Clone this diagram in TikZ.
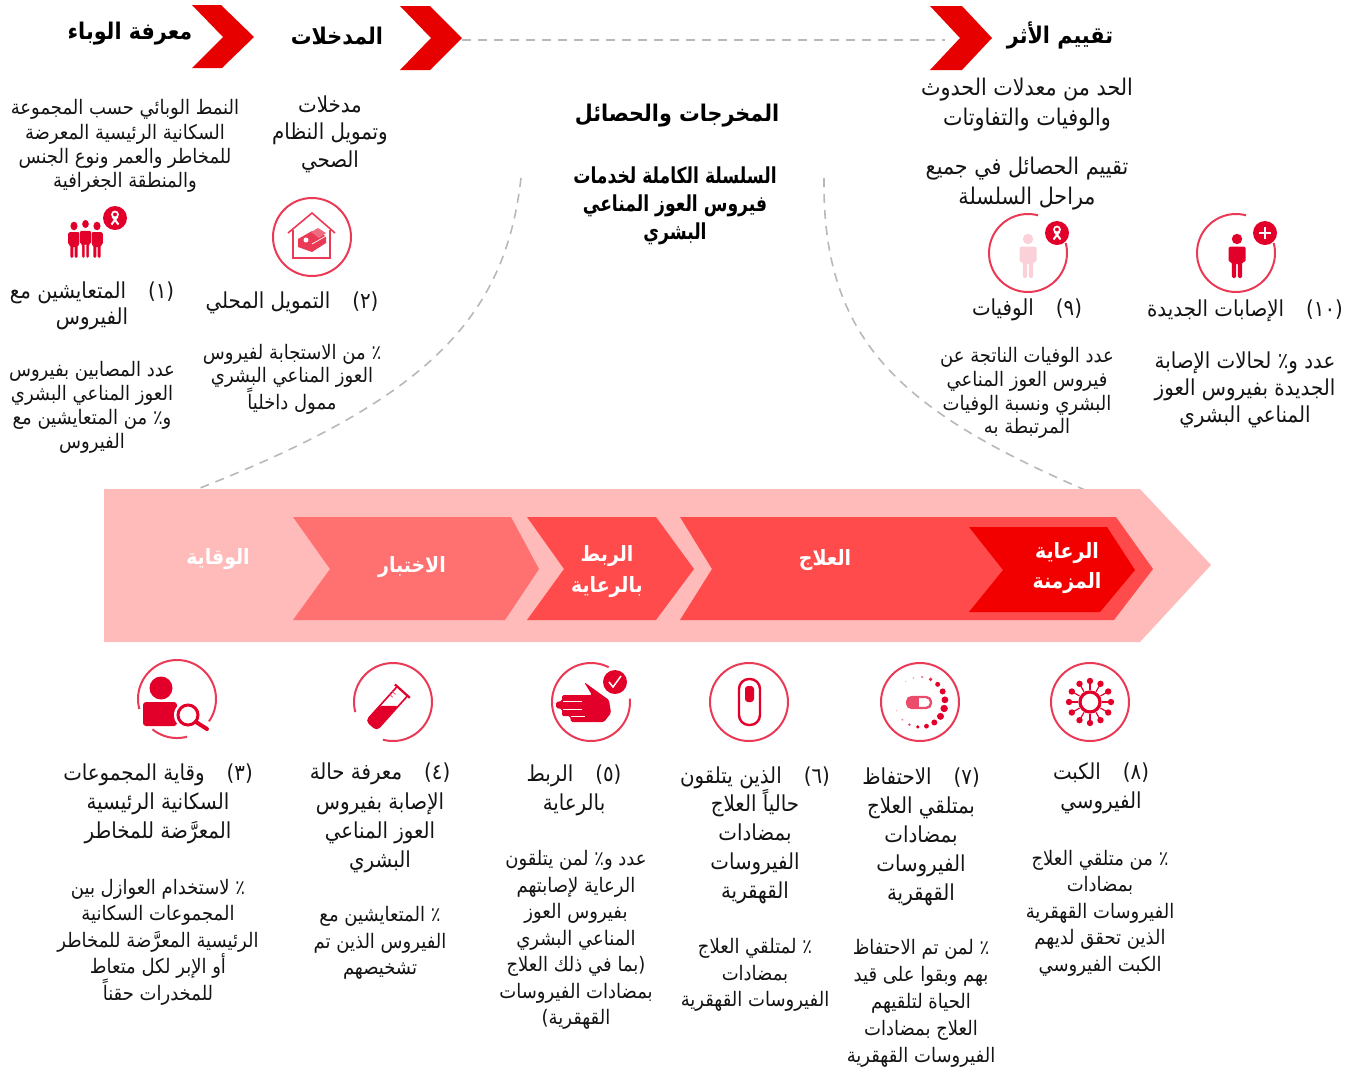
\documentclass[tikz,border=0pt]{standalone}
\usepackage{fontspec}
\TeXXeTstate=1
\newfontfamily\arfont[Script=Arabic,FakeStretch=0.9]{DejaVu Sans}
\newfontfamily\chainfont[Script=Arabic,FakeStretch=0.78]{DejaVu Sans}
\newcommand{\ar}[1]{\beginR #1\endR}
\definecolor{headred}{HTML}{E60000}
\definecolor{iconred}{HTML}{E2002B}
\definecolor{ringred}{HTML}{EA3A55}
\definecolor{bandpink}{HTML}{FFBABA}
\definecolor{testred}{HTML}{FF7070}
\definecolor{treatred}{HTML}{FF4B4B}
\definecolor{chronred}{HTML}{F20000}
\definecolor{dashgray}{HTML}{B8B8B8}
\tikzset{
  bodyt/.style={inner sep=0pt,align=center,text=black!92,yshift=-2pt,font=\arfont\fontsize{20}{#1}\selectfont},
  labelt/.style={inner sep=0pt,align=center,text=black!92,yshift=-2pt,font=\arfont\fontsize{22}{#1}\selectfont},
  leadt/.style={inner sep=0pt,align=center,text=black!92,yshift=-2pt,font=\arfont\fontsize{23}{#1}\selectfont},
  headt/.style={inner sep=0pt,align=center,text=black,yshift=-3pt,font=\arfont\bfseries\fontsize{23}{#1}\selectfont},
  chaint/.style={inner sep=0pt,align=center,text=black,yshift=-2pt,font=\chainfont\bfseries\fontsize{22}{#1}\selectfont},
  bandt/.style={inner sep=0pt,align=center,text=white,yshift=-2pt,font=\arfont\bfseries\fontsize{21}{#1}\selectfont},
  dashline/.style={draw=dashgray,line width=1.6pt,dash pattern=on 9pt off 7pt},
  ring/.style={draw=ringred,line width=2pt}
}
\newcommand{\ringarc}[4]{\draw[ring] plot[domain=#3:#4,samples=70] ({#1+39*cos(\x)},{#2-39*sin(\x)});}
\newcommand{\personfig}[4]{%
  \begin{scope}[shift={(#1,#2)},#3]
  \fill[#4] (0,0) circle[radius=5.2pt];
  \fill[#4,rounded corners=1.5pt] (-8.5,7.5) -- (8.5,7.5) -- (8.5,23) -- (5.2,23) -- (5.2,39) -- (0.9,39) -- (0.9,24) -- (-0.9,24) -- (-0.9,39) -- (-5.2,39) -- (-5.2,23) -- (-8.5,23) -- cycle;
  \end{scope}}
\newcommand{\ribbonbadge}[2]{%
  \fill[iconred] (#1,#2) circle[radius=12pt];
  \begin{scope}[shift={(#1,#2)}]
  \draw[white,line width=1.7pt] (0,-3.5) circle[radius=3pt];
  \draw[white,line width=2pt] (-2.5,-1.5) -- (3.5,6.5) (2.5,-1.5) -- (-3.5,6.5);
  \end{scope}}
\begin{document}
\begin{tikzpicture}[x=1pt,y=-1pt]
\useasboundingbox (0,0) rectangle (1361,1072);

% header chevrons
\fill[headred] (192,5) -- (221,5) -- (254,37) -- (222,68) -- (192,68) -- (223,37) -- cycle;
\fill[headred] (400,6) -- (430,6) -- (462,38) -- (430,70) -- (400,70) -- (431,38) -- cycle;
\fill[headred] (930,6) -- (962,6) -- (992,38) -- (962,70) -- (930,70) -- (960,38) -- cycle;

% dashed connectors
\coordinate (dashA) at (462,40);
\coordinate (dashB) at (945,40);
\coordinate (curveLtop) at (521,178);
\coordinate (curveLbot) at (195,490);
\coordinate (curveRtop) at (824,178);
\coordinate (curveRbot) at (1085,490);
\draw[dashline] (dashA) -- (dashB);
\draw[dashline] (curveLtop) .. controls (505,320) and (425,400) .. (curveLbot);
\draw[dashline] (curveRtop) .. controls (822,340) and (900,410) .. (curveRbot);

% band
\fill[bandpink] (104,489) -- (1140,489) -- (1211,565) -- (1140,642) -- (104,642) -- cycle;
\fill[testred] (293,517) -- (511,517) -- (539,569) -- (505,620) -- (293,620) -- (330,569) -- cycle;
\fill[treatred] (527,517) -- (656,517) -- (694,569) -- (656,620) -- (527,620) -- (564,569) -- cycle;
\fill[treatred] (680,517) -- (1116,517) -- (1153,569) -- (1114,620) -- (680,620) -- (712,569) -- cycle;
\fill[chronred] (969,527) -- (1107,527) -- (1135,570) -- (1100,612) -- (969,612) -- (1003,570) -- cycle;

\node[bandt=24] (bPrev) at (218,557) {\ar{الوقاية}};
\node[bandt=24] (bTest) at (412,565) {\ar{الاختبار}};
\node[bandt=31] (bLink) at (607,570) {\ar{الربط}\\\ar{بالرعاية}};
\node[bandt=24] (bTreat) at (825,558) {\ar{العلاج}};
\node[bandt=30] (bChron) at (1067,566) {\ar{الرعاية}\\\ar{المزمنة}};

% headings
\node[headt=28] (hEpi) at (130,31) {\ar{معرفة الوباء}};
\node[headt=28] (hInp) at (337,33) {\ar{المدخلات}};
\node[headt=28] (hImp) at (1060,32) {\ar{تقييم الأثر}};
\node[headt=28] (hOut) at (677,113) {\ar{المخرجات والحصائل}};
\node[chaint=28] (hChain) at (675,204) {\ar{السلسلة الكاملة لخدمات}\\\ar{فيروس العوز المناعي}\\\ar{البشري}};

% top texts
\node[bodyt=24.3] (tEpi) at (125,144) {\ar{النمط الوبائي حسب المجموعة}\\\ar{السكانية الرئيسية المعرضة}\\\ar{للمخاطر والعمر ونوع الجنس}\\\ar{والمنطقة الجغرافية}};
\node[labelt=27.5] (tInp) at (330,132) {\ar{مدخلات}\\\ar{وتمويل النظام}\\\ar{الصحي}};
\node[leadt=30] (tImpA) at (1027,103) {\ar{الحد من معدلات الحدوث}\\\ar{والوفيات والتفاوتات}};
\node[leadt=30] (tImpB) at (1027,182) {\ar{تقييم الحصائل في جميع}\\\ar{مراحل السلسلة}};

% labels 1,2,9,10
\node[labelt=26] (l1) at (92,304) {\ar{(١)\quad المتعايشين مع}\\\ar{الفيروس}};
\node[labelt=26] (l2) at (292,301) {\ar{(٢)\quad التمويل المحلي}};
\node[labelt=26] (l9) at (1027,308) {\ar{(٩)\quad الوفيات}};
\node[labelt=26] (l10) at (1245,309) {\ar{(\beginL ١٠\endL)\quad الإصابات الجديدة}};

% descriptions 1,2,9,10
\node[bodyt=24] (d1) at (92,405) {\ar{عدد المصابين بفيروس}\\\ar{العوز المناعي البشري}\\\ar{و٪ من المتعايشين مع}\\\ar{الفيروس}};
\node[bodyt=23.5] (d2) at (292,377) {\ar{٪ من الاستجابة لفيروس}\\\ar{العوز المناعي البشري}\\\ar{ممول داخلياً}};
\node[bodyt=23.7] (d9) at (1027,391) {\ar{عدد الوفيات الناتجة عن}\\\ar{فيروس العوز المناعي}\\\ar{البشري ونسبة الوفيات}\\\ar{المرتبطة به}};
\node[labelt=27] (d10) at (1245,388) {\ar{عدد و٪ لحالات الإصابة}\\\ar{الجديدة بفيروس العوز}\\\ar{المناعي البشري}};

% bottom labels
\node[labelt=28.7] (l3) at (158,802) {\ar{(٣)\quad وقاية المجموعات}\\\ar{السكانية الرئيسية}\\\ar{المعرَّضة للمخاطر}};
\node[labelt=29.2] (l4) at (380,816) {\ar{(٤)\quad معرفة حالة}\\\ar{الإصابة بفيروس}\\\ar{العوز المناعي}\\\ar{البشري}};
\node[labelt=29] (l5) at (574,788) {\ar{(٥)\quad الربط}\\\ar{بالرعاية}};
\node[labelt=28.8] (l6) at (755,833) {\ar{(٦)\quad الذين يتلقون}\\\ar{حالياً العلاج}\\\ar{بمضادات}\\\ar{الفيروسات}\\\ar{القهقرية}};
\node[labelt=29] (l7) at (921,835) {\ar{(٧)\quad الاحتفاظ}\\\ar{بمتلقي العلاج}\\\ar{بمضادات}\\\ar{الفيروسات}\\\ar{القهقرية}};
\node[labelt=29] (l8) at (1101,786) {\ar{(٨)\quad الكبت}\\\ar{الفيروسي}};

% bottom descriptions
\node[bodyt=26.5] (d3) at (158,940) {\ar{٪ لاستخدام العوازل بين}\\\ar{المجموعات السكانية}\\\ar{الرئيسية المعرَّضة للمخاطر}\\\ar{أو الإبر لكل متعاط}\\\ar{للمخدرات حقناً}};
\node[bodyt=26.5] (d4) at (380,941) {\ar{٪ المتعايشين مع}\\\ar{الفيروس الذين تم}\\\ar{تشخيصهم}};
\node[bodyt=26.5] (d5) at (576,938) {\ar{عدد و٪ لمن يتلقون}\\\ar{الرعاية لإصابتهم}\\\ar{بفيروس العوز}\\\ar{المناعي البشري}\\\ar{(بما في ذلك العلاج}\\\ar{بمضادات الفيروسات}\\\ar{القهقرية)}};
\node[bodyt=26.5] (d6) at (755,973) {\ar{٪ لمتلقي العلاج}\\\ar{بمضادات}\\\ar{الفيروسات القهقرية}};
\node[bodyt=27] (d7) at (921,1001) {\ar{٪ لمن تم الاحتفاظ}\\\ar{بهم وبقوا على قيد}\\\ar{الحياة لتلقيهم}\\\ar{العلاج بمضادات}\\\ar{الفيروسات القهقرية}};
\node[bodyt=26.5] (d8) at (1100,911) {\ar{٪ من متلقي العلاج}\\\ar{بمضادات}\\\ar{الفيروسات القهقرية}\\\ar{الذين تحقق لديهم}\\\ar{الكبت الفيروسي}};

% ---- icons ----
% 1 people
\personfig{74}{226}{xscale=.68,yscale=.82}{iconred}
\personfig{97}{226}{xscale=.68,yscale=.82}{iconred}
\personfig{85.5}{224}{xscale=.72,yscale=.88}{iconred,draw=white,line width=.6pt}
\ribbonbadge{115}{218}

% 2 house and money
\draw[ring] (312,237) circle[radius=39pt];
\draw[draw=ringred,line width=1.6pt,line join=miter] (288,233) -- (312,213) -- (335,233);
\draw[draw=ringred,line width=1.6pt] (293,230) -- (293,258) -- (330,258) -- (330,230);
\fill[ringred] (298,239) -- (312,231) -- (326,236) -- (326,243) -- (312,252) -- (298,247) -- cycle;
\fill[ringred!75] (311,232) -- (318,228) -- (326,233) -- (319,238) -- cycle;
\fill[white] (306,240) circle[radius=2.5pt];
\draw[white,line width=.7pt] (312,244) -- (326,236);

% 9, 10
\ringarc{1028}{253}{75}{375}
\personfig{1028}{239}{scale=1}{iconred!18}
\ribbonbadge{1057}{233}
\ringarc{1236}{253}{75}{375}
\personfig{1237}{239}{scale=1}{iconred}
\fill[iconred] (1265,233) circle[radius=12pt];
\draw[white,line width=1.7pt] (1259,233) -- (1271,233) (1265,227) -- (1265,239);

% 3 person and lens
\ringarc{177}{699}{-35}{195}
\ringarc{177}{699}{231}{285}
\fill[iconred] (161,688) circle[radius=11.5pt];
\fill[iconred,rounded corners=3pt] (143,726) -- (143,702) -- (177,702) -- (177,726) -- cycle;
\fill[white] (188,715) circle[radius=14pt];
\draw[iconred,line width=3pt] (188,715) circle[radius=10pt];
\draw[iconred,line width=4pt,line cap=round] (196,722) -- (207,729);

% 4 test tube
\ringarc{393}{702}{255}{555}
\begin{scope}[shift={(389,706)},rotate=48]
\fill[iconred,rounded corners=3pt] (-26,-7) -- (-6,-7) -- (6.6,7) -- (-26,7) -- cycle;
\draw[iconred,line width=1.6pt,rounded corners=4pt] (20,-7) -- (-26,-7) -- (-26,7) -- (20,7);
\draw[iconred,line width=2.2pt] (20,-10) -- (20,10);
\draw[iconred!60,line width=1pt] (9,-7) -- (9,-3) (13,-7) -- (13,-3);
\end{scope}

% 5 hand
\draw[ring] plot[domain=63:365,samples=70] ({591+39*cos(\x)},{702-39*sin(\x)});
\fill[iconred,rounded corners=1.5pt] (584,682) -- (609,700) -- (611,713) -- (604,722) -- (571,722) -- (570,716) -- (562,716) -- (562,709) -- (556,708) -- (556,702) -- (562,701) -- (562,695) -- (592,695) -- cycle;
\draw[white,line width=.7pt] (563,701) -- (582,701) (563,709) -- (582,709) (571,716) -- (585,716);
\fill[iconred] (615,682) circle[radius=12pt];
\draw[white,line width=1.5pt] (609,682) -- (613,687) -- (621,676);

% 6 pill
\draw[ring] (749,702) circle[radius=39pt];
\draw[iconred,line width=2.4pt,rounded corners=10pt] (739,679) rectangle (760,725);
\fill[iconred,rounded corners=3pt] (745,686) -- (754,686) -- (754,702) -- (745,702) -- cycle;

% 7 adherence dots
\draw[ring] (920,702) circle[radius=39pt];
\foreach \ang/\sz/\op in {125/.8/.25,105/1/.35,85/1.3/.5,65/1.9/.85,45/2.5/1,25/3/1,5/3.4/1,-15/3.7/1,-35/3.5/1,-55/3/1,-75/2.4/1,-95/1.8/1,-115/1.3/.8,-135/1/.5,-160/.8/.3}
  \fill[iconred,opacity=\op] ({920+25*cos(\ang)},{702-25*sin(\ang)}) circle[radius=\sz pt];
\fill[iconred!70] (908,697) rectangle (919,708);
\draw[iconred!70,line width=2.4pt,rounded corners=5pt] (907,697) rectangle (931,708);

% 8 virus
\draw[ring] (1090,702) circle[radius=39pt];
\draw[iconred,line width=3.2pt] (1090,702) circle[radius=10pt];
\foreach \ang in {0,30,...,330}{
  \draw[iconred,line width=1.2pt] ({1090+12*cos(\ang)},{702-12*sin(\ang)}) -- ({1090+20*cos(\ang)},{702-20*sin(\ang)});
  \fill[iconred] ({1090+21*cos(\ang)},{702-21*sin(\ang)}) circle[radius=3.2pt];
}
\end{tikzpicture}
\end{document}
